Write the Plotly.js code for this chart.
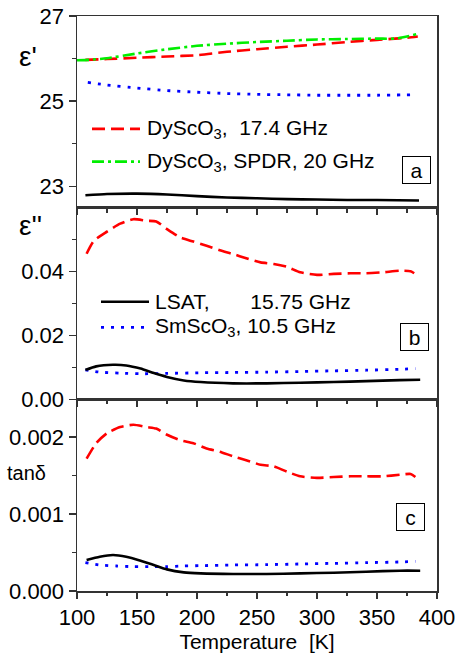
<!DOCTYPE html>
<html>
<head>
<meta charset="utf-8">
<script src="https://cdn.plot.ly/plotly-3.0.1.min.js"></script>
<style>html,body{margin:0;padding:0;background:#fff;}#chart{width:457px;height:653px;}</style>
</head>
<body>
<div id="chart"></div>
<script>
// ---------- data ----------
// Panel a: real permittivity eps'
const tempA_Dy   = [107,125,150,175,200,225,250,275,300,325,350,375,384];
const epsA_Dy    = [25.97,25.99,26.02,26.05,26.08,26.16,26.22,26.28,26.33,26.39,26.44,26.49,26.52];
const tempA_SPDR = [100,110,125,150,175,200,225,250,275,300,325,350,365,375,384];
const epsA_SPDR  = [25.96,25.97,26.01,26.12,26.22,26.30,26.35,26.39,26.42,26.45,26.46,26.47,26.47,26.52,26.58];
const tempA_Sm   = [109,125,150,175,200,225,250,275,300,325,350,380];
const epsA_Sm    = [25.44,25.38,25.31,25.25,25.21,25.18,25.16,25.15,25.14,25.14,25.14,25.15];
const tempA_LSAT = [107,125,150,175,200,225,250,275,300,325,350,385];
const epsA_LSAT  = [22.79,22.82,22.83,22.81,22.77,22.74,22.72,22.70,22.69,22.68,22.68,22.67];

// Panel b: imaginary permittivity eps''
const tempB_Dy   = [108,114,125,136,147,158,166,175,186,197,208,219,230,241,253,264,275,286,300,314,328,341,355,369,378,381];
const epsB_Dy    = [0.0455,0.0495,0.0524,0.0549,0.0563,0.0558,0.0556,0.0532,0.0506,0.0493,0.0480,0.0466,0.0454,0.0441,0.0428,0.0423,0.0414,0.0397,0.0389,0.0392,0.0394,0.0394,0.0397,0.0402,0.0400,0.0394];
const tempB_LSAT = [107,116,130,141,153,164,175,189,203,230,258,286,314,341,369,386];
const epsB_LSAT  = [0.0092,0.0103,0.0108,0.0106,0.0096,0.0082,0.0070,0.0059,0.0054,0.0050,0.0050,0.0052,0.0054,0.0057,0.0060,0.0061];
const tempB_Sm   = [107,119,136,153,175,203,230,258,286,314,341,369,382];
const epsB_Sm    = [0.0092,0.0085,0.0082,0.0080,0.0081,0.0083,0.0084,0.0085,0.0087,0.0089,0.0091,0.0094,0.0096];

// Panel c: loss tangent
const tempC_Dy   = [108,116,125,136,147,158,166,175,186,197,208,219,230,241,253,264,275,286,300,314,328,341,355,369,378,382];
const tanC_Dy    = [0.00172,0.00192,0.00205,0.00213,0.00216,0.00213,0.00211,0.00203,0.00196,0.00192,0.00185,0.00181,0.00175,0.00170,0.00164,0.00162,0.00155,0.00149,0.00147,0.00148,0.00149,0.00149,0.00149,0.00151,0.00152,0.00148];
const tempC_LSAT = [108,119,130,141,153,164,175,189,203,230,258,286,314,341,369,386];
const tanC_LSAT  = [0.000403,0.000446,0.000468,0.000446,0.000394,0.000338,0.000281,0.000242,0.000229,0.000221,0.000221,0.000229,0.000238,0.000251,0.000264,0.000264];
const tempC_Sm   = [107,119,133,147,164,175,189,203,230,258,286,314,341,369,382];
const tanC_Sm    = [0.000368,0.000338,0.000325,0.000316,0.000316,0.000316,0.000325,0.000329,0.000338,0.000342,0.000351,0.000359,0.000368,0.000377,0.000385];

// Legend labels
const labelDy   = 'DyScO<sub>3</sub>,\u00A0\u00A017.4 GHz';
const labelSPDR = 'DyScO<sub>3</sub>, SPDR, 20 GHz';
const labelLSAT = 'LSAT,\u00A0\u00A0\u00A0\u00A0\u00A0\u00A0\u00A015.75 GHz';
const labelSm   = 'SmScO<sub>3</sub>, 10.5 GHz';
const panelTags = ['a','b','c'];

// ---------- styles ----------
const FONT = 'Arial, "Liberation Sans", sans-serif';
const styles = {
  Dy:   {color:'#ff0000', dash:'13px,6px', width:2.6},
  SPDR: {color:'#00ee00', dash:'12px,4px,3px,4px', width:2.6},
  Sm:   {color:'#0000ff', dash:'3px,7px', width:2.8},
  LSAT: {color:'#000000', dash:'solid', width:2.6}
};
function tr(x, y, key, xa, ya) {
  return {x:x, y:y, type:'scatter', mode:'lines', xaxis:xa, yaxis:ya,
    line:Object.assign({shape:'spline', smoothing:0.6}, styles[key]),
    showlegend:false, hoverinfo:'skip'};
}
const data = [
  tr(tempA_LSAT, epsA_LSAT, 'LSAT', 'x3', 'y3'),
  tr(tempA_Sm,   epsA_Sm,   'Sm',   'x3', 'y3'),
  tr(tempA_Dy,   epsA_Dy,   'Dy',   'x3', 'y3'),
  tr(tempA_SPDR, epsA_SPDR, 'SPDR', 'x3', 'y3'),
  tr(tempB_Sm,   epsB_Sm,   'Sm',   'x2', 'y2'),
  tr(tempB_LSAT, epsB_LSAT, 'LSAT', 'x2', 'y2'),
  tr(tempB_Dy,   epsB_Dy,   'Dy',   'x2', 'y2'),
  tr(tempC_Sm,   tanC_Sm,   'Sm',   'x',  'y'),
  tr(tempC_LSAT, tanC_LSAT, 'LSAT', 'x',  'y'),
  tr(tempC_Dy,   tanC_Dy,   'Dy',   'x',  'y')
];

const axisLine = {showline:true, linecolor:'#333', linewidth:1.5, mirror:true,
  showgrid:false, zeroline:false, ticks:'outside', tickcolor:'#333', tickwidth:1.5,
  tickfont:{family:FONT, size:22, color:'#000'}};
function xax(domainAnchor, showLabels) {
  return Object.assign({}, axisLine, {
    anchor:domainAnchor, range:[100,400], dtick:50, tick0:100, ticklen:6,
    showticklabels:showLabels, minor:{dtick:25, ticklen:3.5, ticks:'outside', tickcolor:'#333', tickwidth:1.2}
  });
}
function yax(domain, anchor, range, dtick, tick0, fmt, minorDtick) {
  return Object.assign({}, axisLine, {
    domain:domain, anchor:anchor, range:range, dtick:dtick, tick0:tick0, tickformat:fmt, ticklen:7,
    minor:{dtick:minorDtick, ticklen:4, ticks:'outside', tickcolor:'#333', tickwidth:1.2}
  });
}

const layout = {
  width:457, height:653,
  margin:{l:77, r:20, t:16, b:62},
  paper_bgcolor:'#fff', plot_bgcolor:'#fff',
  font:{family:FONT, color:'#000'},
  showlegend:false,
  xaxis: Object.assign(xax('y', true), {title:{text:'Temperature\u00A0\u00A0[K]', font:{family:FONT, size:21}, standoff:8}}),
  xaxis2: Object.assign(xax('y2', false), {matches:'x'}),
  xaxis3: Object.assign(xax('y3', false), {matches:'x'}),
  yaxis:  yax([0, 1/3], 'x', [0, 0.00249], 0.001, 0, '.3f', 0.0005),
  yaxis2: yax([1/3, 2/3], 'x2', [0, 0.0599], 0.02, 0, '.2f', 0.01),
  yaxis3: yax([2/3, 1], 'x3', [22.5, 27.0005], 2, 23, 'd', 1),
  shapes: [], annotations: []
};

// axis-style titles on the left
layout.annotations.push(
  {xref:'paper', yref:'paper', x:-0.136, y:0.93, text:"ε'", showarrow:false, font:{family:FONT, size:28}, xanchor:'center', yanchor:'middle'},
  {xref:'paper', yref:'paper', x:-0.13, y:0.635, text:"ε''", showarrow:false, font:{family:FONT, size:28}, xanchor:'center', yanchor:'middle'},
  {xref:'paper', yref:'paper', x:-0.139, y:0.205, text:'tanδ', showarrow:false, font:{family:FONT, size:20}, xanchor:'center', yanchor:'middle'}
);

// panel tags (boxed letters)
const tagPos = [{x:383, y:23.38, xr:'x3', yr:'y3'}, {x:381, y:0.0195, xr:'x2', yr:'y2'}, {x:377.5, y:0.00096, xr:'x', yr:'y'}];
panelTags.forEach(function(t, i){
  const p = tagPos[i];
  layout.annotations.push({xref:p.xr, yref:p.yr, x:p.x, y:p.y, text:t, showarrow:false,
    font:{family:FONT, size:21}, bordercolor:'#000', borderwidth:1, borderpad:1, bgcolor:'#fff',
    width:25, height:24, xanchor:'center', yanchor:'middle'});
});

// in-panel legends: sample line + label
const legendItems = [
  {key:'Dy',   label:labelDy,   xr:'x3', yr:'y3', y:24.35,  x0:112.5, x1:152.5, tx:157},
  {key:'SPDR', label:labelSPDR, xr:'x3', yr:'y3', y:23.58,  x0:112.5, x1:152.5, tx:157},
  {key:'LSAT', label:labelLSAT, xr:'x2', yr:'y2', y:0.0305, x0:120,   x1:160,   tx:163.5},
  {key:'Sm',   label:labelSm,   xr:'x2', yr:'y2', y:0.0225, x0:120,   x1:157,   tx:163.5}
];
legendItems.forEach(function(it){
  const s = styles[it.key];
  layout.shapes.push({type:'line', xref:it.xr, yref:it.yr, x0:it.x0, x1:it.x1, y0:it.y, y1:it.y,
    line:{color:s.color, width:s.width, dash:s.dash}});
  layout.annotations.push({xref:it.xr, yref:it.yr, x:it.tx, y:it.y, text:it.label, showarrow:false,
    font:{family:FONT, size:21}, xanchor:'left', yanchor:'middle'});
});

Plotly.newPlot('chart', data, layout, {staticPlot:true, displayModeBar:false});
</script>
</body>
</html>
